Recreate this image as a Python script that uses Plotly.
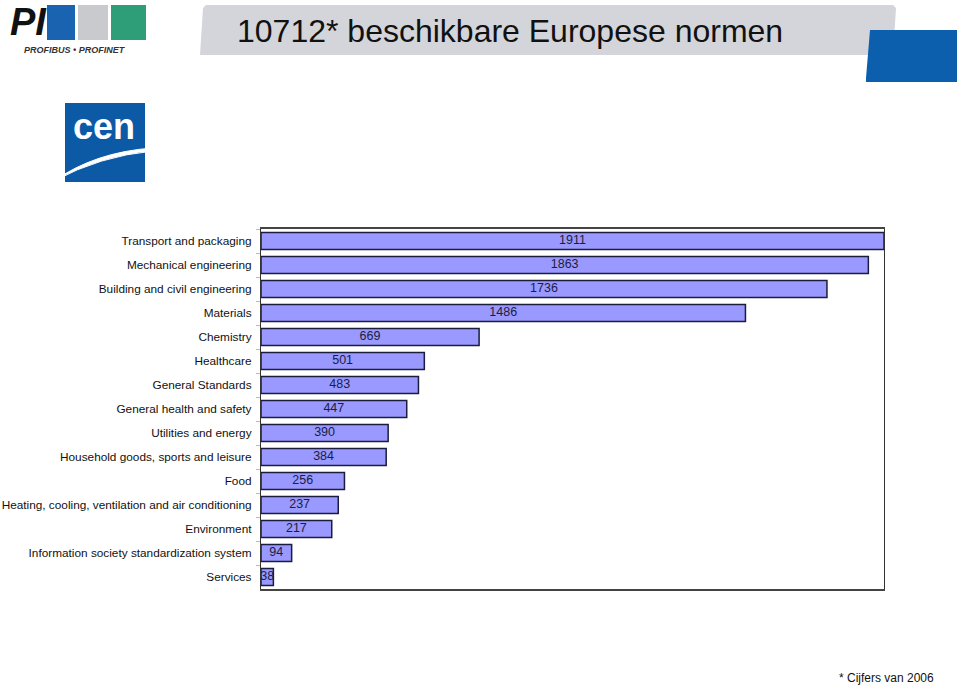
import plotly.graph_objects as go

categories = [
    "Transport and packaging", "Mechanical engineering", "Building and civil engineering",
    "Materials", "Chemistry", "Healthcare", "General Standards", "General health and safety",
    "Utilities and energy", "Household goods, sports and leisure", "Food",
    "Heating, cooling, ventilation and air conditioning", "Environment",
    "Information society standardization system", "Services",
]
values = [1911, 1863, 1736, 1486, 669, 501, 483, 447, 390, 384, 256, 237, 217, 94, 38]

W, H = 960, 687
L, R, T, B = 261, 884, 229, 589


def px(x):
    return (x - L) / (R - L)


def py(y):
    return (B - y) / (B - T)


fig = go.Figure()
fig.add_trace(go.Bar(
    y=categories, x=values, orientation="h",
    marker=dict(color="#9999FF", line=dict(color="#1c1c3c", width=1.5)),
    hoverinfo="skip",
))
fig.add_trace(go.Scatter(
    y=categories, x=[v / 2 for v in values], mode="text",
    text=[str(v) for v in values],
    textfont=dict(family="Liberation Sans, Arial", size=12.5, color="#1c1c44"),
    hoverinfo="skip",
))

shapes = []
# title banner
shapes.append(dict(type="path", xref="paper", yref="paper",
                   path=f"M {px(206)} {py(5)} L {px(893)} {py(5)} L {px(896)} {py(8)} L {px(893)} {py(55)} "
                        f"L {px(200)} {py(55)} L {px(203)} {py(8)} Z",
                   fillcolor="#D3D5DA", line=dict(width=0), layer="below"))
# blue square right
shapes.append(dict(type="path", xref="paper", yref="paper",
                   path=f"M {px(870)} {py(30)} L {px(957)} {py(30)} L {px(957)} {py(82)} "
                        f"L {px(866)} {py(82)} L {px(866)} {py(78)} Z",
                   fillcolor="#0B5FAC", line=dict(width=0)))
# PI logo blocks
for x0, x1, c in [(47, 75, "#1A63B0"), (78, 108, "#C8CACD"), (111, 146, "#2E9E78")]:
    shapes.append(dict(type="rect", xref="paper", yref="paper",
                       x0=px(x0), x1=px(x1), y0=py(40), y1=py(5),
                       fillcolor=c, line=dict(width=0)))
# CEN logo
shapes.append(dict(type="rect", xref="paper", yref="paper",
                   x0=px(65), x1=px(145), y0=py(182), y1=py(103),
                   fillcolor="#0C5AA6", line=dict(width=0)))
shapes.append(dict(type="path", xref="paper", yref="paper",
                   path=f"M {px(54)} {py(181)} Q {px(95)} {py(152)} {px(153)} {py(148)} "
                        f"L {px(153)} {py(151)} Q {px(100)} {py(156)} {px(54)} {py(181)} Z",
                   fillcolor="white", line=dict(color="white", width=1)))

annotations = [
    dict(text="10712* beschikbare Europese normen", x=px(510), y=py(31), xref="paper", yref="paper",
         showarrow=False, font=dict(family="Liberation Sans, Arial", size=32, color="#111111"),
         xanchor="center", yanchor="middle"),
    dict(text="<b><i>PI</i></b>", x=px(28), y=py(22), xref="paper", yref="paper", showarrow=False,
         font=dict(family="Liberation Sans, Arial", size=38, color="#111111"), xanchor="center", yanchor="middle"),
    dict(text="<b><i>PROFIBUS • PROFINET</i></b>", x=px(75), y=py(50), xref="paper", yref="paper", showarrow=False,
         font=dict(family="Liberation Sans, Arial", size=9, color="#333333"), xanchor="center", yanchor="middle"),
    dict(text="<b>cen</b>", x=px(104), y=py(127), xref="paper", yref="paper", showarrow=False,
         font=dict(family="Liberation Sans, Arial", size=36, color="white"), xanchor="center", yanchor="middle"),
    dict(text="* Cijfers van 2006", x=px(936), y=py(678), xref="paper", yref="paper", showarrow=False,
         font=dict(family="Liberation Sans, Arial", size=12, color="#111111"), xanchor="right", yanchor="middle"),
]

fig.update_layout(
    width=W, height=H,
    margin=dict(l=L, r=W - R, t=T, b=H - B, pad=0, autoexpand=False),
    paper_bgcolor="white", plot_bgcolor="white",
    showlegend=False, bargap=0.3,
    shapes=shapes, annotations=annotations,
    font=dict(family="Liberation Sans, Arial", size=12, color="#111111"),
)
fig.update_xaxes(range=[0, 1911], showticklabels=False, showgrid=False, zeroline=False,
                 showline=True, linecolor="#444444", linewidth=1.5, mirror=True, ticks="",
                 fixedrange=True, automargin=False)
fig.update_yaxes(range=[len(categories) - 0.5, -0.5], showgrid=False, zeroline=False, showline=True,
                 linecolor="#333333", linewidth=1.2, mirror=True, ticks="outside", tickson="boundaries",
                 ticklen=4, tickcolor="#BBBBBB", ticklabelstandoff=6, automargin=False,
                 tickfont=dict(family="Liberation Sans, Arial", size=11.8, color="#111111"), fixedrange=True)

fig.write_html("out.html")
